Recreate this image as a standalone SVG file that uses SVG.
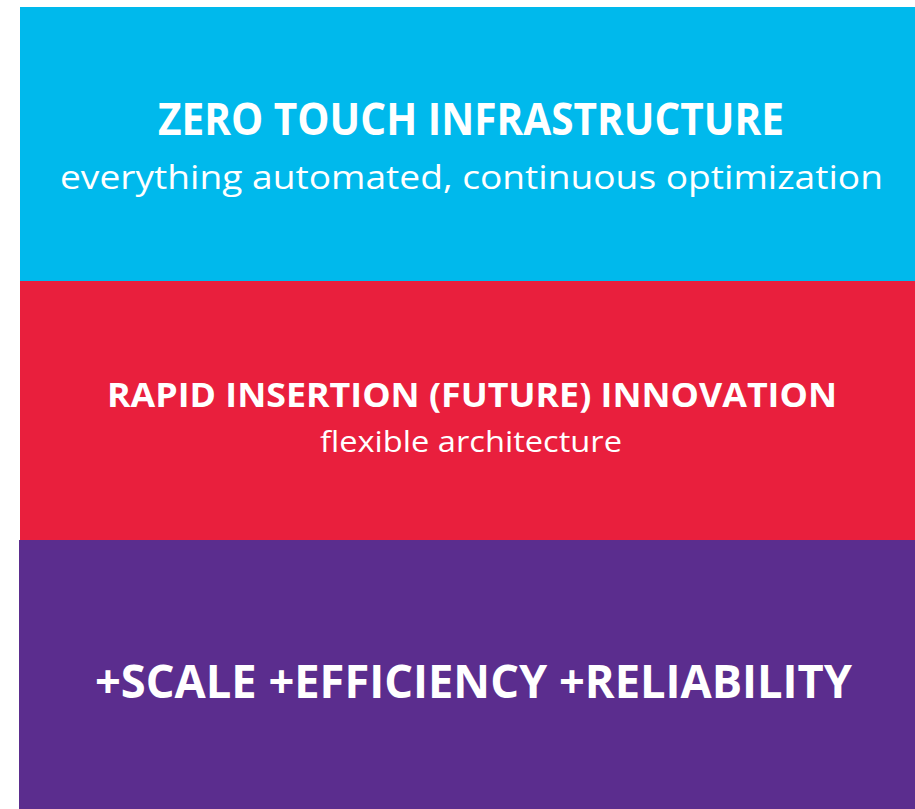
<svg xmlns="http://www.w3.org/2000/svg" width="915" height="809" viewBox="0 0 915 809">
  <style>
    .t { fill: #ffffff; font-family: "Open Sans", "Noto Sans", "Liberation Sans", sans-serif; }
    .b { font-weight: bold; }
  </style>
  <rect x="0" y="0" width="915" height="809" fill="#ffffff"/>
  <g id="zero-touch">
    <rect x="20" y="7" width="895" height="274" fill="#00B9EC"/>
    <text class="t b" x="158" y="135" font-size="45" textLength="626" lengthAdjust="spacingAndGlyphs">ZERO TOUCH INFRASTRUCTURE</text>
    <text class="t" x="60" y="189" font-size="33" textLength="823" lengthAdjust="spacingAndGlyphs">everything automated, continuous optimization</text>
  </g>
  <g id="rapid-insertion">
    <rect x="20" y="281" width="895" height="259" fill="#E91F3D"/>
    <text class="t b" x="107" y="407" font-size="34" textLength="730" lengthAdjust="spacingAndGlyphs">RAPID INSERTION (FUTURE) INNOVATION</text>
    <text class="t" x="320" y="452" font-size="30" textLength="302" lengthAdjust="spacingAndGlyphs">flexible architecture</text>
  </g>
  <g id="scale">
    <rect x="19" y="540" width="896" height="269" fill="#5B2D8E"/>
    <text class="t b" x="95" y="698" font-size="46" textLength="757" lengthAdjust="spacingAndGlyphs">+SCALE +EFFICIENCY +RELIABILITY</text>
  </g>
</svg>
